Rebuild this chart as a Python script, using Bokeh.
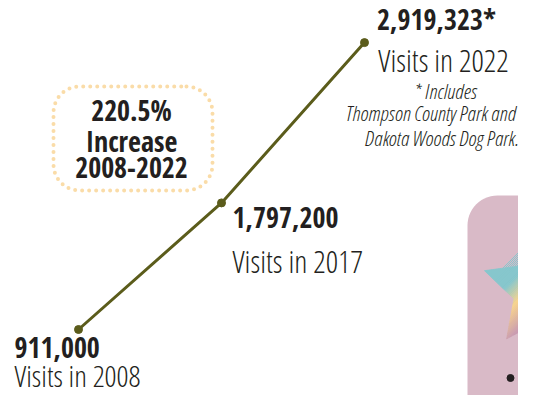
import math
from bokeh.plotting import figure
from bokeh.models import Range1d
from bokeh.core.properties import value
from bokeh.embed import file_html
from bokeh.resources import INLINE

# ---- data ----
years = ["2008", "2017", "2022"]
visits = [911000, 1797200, 2919323]
footnote = ["* Includes", "Thompson County Park and", "Dakota Woods Dog Park."]
increase_word = "Increase"

x = list(range(len(years)))
pct = (visits[-1] - visits[0]) / visits[0] * 100
num_labels = [f"{v:,}" for v in visits]
num_labels[-1] += "*"
visit_labels = [f"Visits in {y}" for y in years]

# ---- figure / scales ----
W, H = 518, 395
X0, X1 = -0.5455, 3.0769
Y0, Y1 = 449000, 3214000
sx = (X1 - X0) / W
sy = (Y1 - Y0) / H
TS = 11   # text baseline correction (px, upward) for ~28-31px text
TSF = 8   # same for the 21px footnote


def px(X):
    return X0 + X * sx


def py(Y):
    return Y1 - Y * sy


p = figure(width=W, height=H, x_range=Range1d(X0, X1), y_range=Range1d(Y0, Y1),
           output_backend="svg", toolbar_location=None, min_border=0,
           x_axis_location=None, y_axis_location=None)
p.grid.visible = False
p.outline_line_color = None
p.background_fill_color = "white"
p.border_fill_color = "white"

DARK = "#231F20"
OLIVE = "#5B5C1B"
BOLD_FONT = value("Open Sans Condensed")
LIGHT_FONT = value("Open Sans Condensed Light")


def rrect(l, t, r, b, rad, n=14):
    xs, ys = [], []
    corners = [(r - rad, t + rad, -90, 0), (r - rad, b - rad, 0, 90),
               (l + rad, b - rad, 90, 180), (l + rad, t + rad, 180, 270)]
    for cx, cy, a0, a1 in corners:
        for i in range(n + 1):
            a = math.radians(a0 + (a1 - a0) * i / n)
            xs.append(px(cx + rad * math.cos(a)))
            ys.append(py(cy + rad * math.sin(a)))
    return xs, ys


# pink panel
bx, by = rrect(467, 195, 620, 480, 30)
p.patch(bx, by, fill_color="#D9BAC7", line_color=None)

# gradient star
cxs, cys, R, r = 542, 289, 61, 30
star = []
for k in range(10):
    a = math.radians(90 + 36 * k)
    rad = R if k % 2 == 0 else r
    star.append((cxs + rad * math.cos(a), cys - rad * math.sin(a)))


def clip(poly, a, b, c):
    out = []
    n = len(poly)
    for i in range(n):
        P, Q = poly[i], poly[(i + 1) % n]
        fp = a * P[0] + b * P[1] - c
        fq = a * Q[0] + b * Q[1] - c
        if fp >= 0:
            out.append(P)
        if (fp >= 0) != (fq >= 0):
            t = fp / (fp - fq)
            out.append((P[0] + t * (Q[0] - P[0]), P[1] + t * (Q[1] - P[1])))
    return out


stops = [(792, (0x86, 0xC7, 0xCD)), (818, (0xF8, 0xD4, 0x8E)), (848, (0xC9, 0x9C, 0xB1))]


def grad(s):
    if s <= stops[0][0]:
        c = stops[0][1]
    elif s >= stops[-1][0]:
        c = stops[-1][1]
    else:
        for (s0, c0), (s1, c1) in zip(stops, stops[1:]):
            if s0 <= s <= s1:
                t = (s - s0) / (s1 - s0)
                c = tuple(c0[i] + t * (c1[i] - c0[i]) for i in range(3))
                break
    return "#%02x%02x%02x" % tuple(int(round(v)) for v in c)


sxs, sys_, scol = [], [], []
s = 740
while s < 900:
    band = clip(clip(star, 1, 1, s), -1, -1, -(s + 2))
    if len(band) >= 3:
        sxs.append([px(q[0]) for q in band])
        sys_.append([py(q[1]) for q in band])
        scol.append(grad(s + 1))
    s += 2
p.patches(sxs, sys_, fill_color=scol, line_color=scol, line_width=0.8)

# bullet
p.scatter([px(510)], [py(377.5)], size=7, color=DARK)

# dotted rounded box
dx_, dy_ = rrect(53, 86, 212, 190, 26)
dx_.append(dx_[0]); dy_.append(dy_[0])
p.line(dx_, dy_, line_color="#FADCA8", line_width=4, line_dash="0 7", line_cap="round")

p.text([px(131)] * 3, [py(120 - TS), py(151 - TS), py(178 - TS)],
       text=[f"{pct:.1f}%", increase_word, f"{years[0]}-{years[-1]}"],
       text_font=BOLD_FONT, text_font_style="bold", text_font_size="28px",
       text_color=DARK, text_align="center", text_baseline="alphabetic")

# the line
p.line(x, visits, line_color=OLIVE, line_width=3)
p.scatter(x, visits, size=8, color=OLIVE)

# value labels (pixel offsets from each point)
num_dx = [-64, 11, 72]
num_dy = [29, 26, -13]
vis_dx = [-64, 11, 79]
vis_dy = [57, 69, 28]
vis_size = ["30px", "31px", "31px"]
aligns = ["left", "left", "center"]
for i in range(len(years)):
    p.text([x[i] + num_dx[i] * sx], [visits[i] - (num_dy[i] - TS) * sy], text=[num_labels[i]],
           text_font=BOLD_FONT, text_font_style="bold", text_font_size="28px",
           text_color=DARK, text_align=aligns[i], text_baseline="alphabetic")
    p.text([x[i] + vis_dx[i] * sx], [visits[i] - (vis_dy[i] - TS) * sy], text=[visit_labels[i]],
           text_font=LIGHT_FONT, text_font_size=vis_size[i],
           text_color=DARK, text_align=aligns[i], text_baseline="alphabetic")

foot_dx = [81, 66, 77]
foot_dy = [56, 78, 103]
for j, line in enumerate(footnote):
    p.text([x[-1] + foot_dx[j] * sx], [visits[-1] - (foot_dy[j] - TSF) * sy], text=[line],
           text_font=LIGHT_FONT, text_font_style="italic", text_font_size="21px",
           text_color=DARK, text_align="center", text_baseline="alphabetic")

open("out.html", "w").write(file_html(p, INLINE))
